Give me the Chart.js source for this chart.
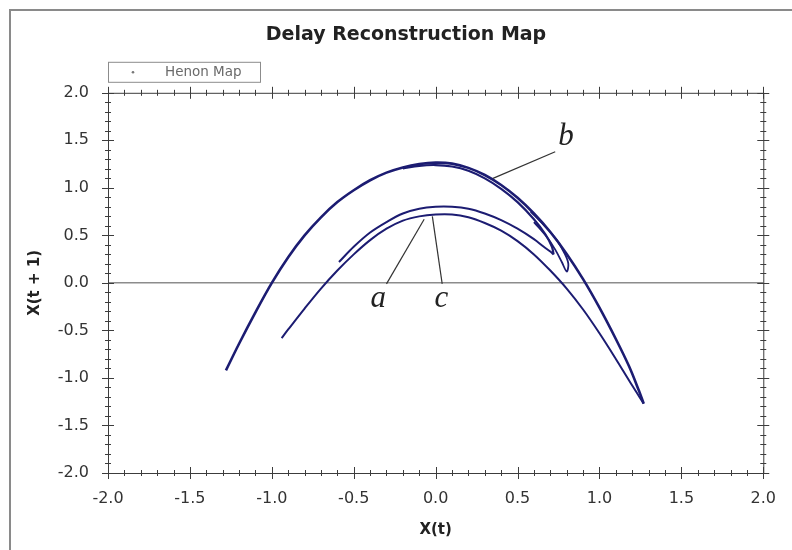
<!DOCTYPE html>
<html>
<head>
<meta charset="utf-8">
<script src="https://cdn.jsdelivr.net/npm/chart.js@4.4.1/dist/chart.umd.min.js"></script>
<style>
  html, body { margin: 0; padding: 0; background: #fff; }
</style>
</head>
<body>
<canvas id="chart" width="792" height="550"></canvas>
<script>
// X(t) / X(t+1) values, one strand of the attractor per pair
const outerX = [-1.28, -1.20, -1.10, -1.00, -0.90, -0.80, -0.70, -0.60, -0.50, -0.40, -0.30, -0.20, -0.10, 0.00, 0.10, 0.20, 0.30, 0.40, 0.50, 0.60, 0.70, 0.80, 0.90, 1.00, 1.10, 1.18, 1.24, 1.27];
const outerY = [-0.92, -0.64, -0.31, 0.00, 0.27, 0.50, 0.69, 0.85, 0.975, 1.08, 1.16, 1.215, 1.25, 1.265, 1.255, 1.21, 1.135, 1.03, 0.895, 0.73, 0.535, 0.305, 0.04, -0.26, -0.59, -0.875, -1.13, -1.27];

const lowerX = [-0.94, -0.90, -0.80, -0.70, -0.60, -0.50, -0.40, -0.30, -0.20, -0.10, 0.00, 0.10, 0.20, 0.30, 0.40, 0.50, 0.60, 0.70, 0.80, 0.90, 1.00, 1.10, 1.20, 1.27];
const lowerY = [-0.58, -0.49, -0.27, -0.06, 0.13, 0.30, 0.45, 0.57, 0.655, 0.70, 0.72, 0.72, 0.69, 0.63, 0.55, 0.44, 0.30, 0.13, -0.06, -0.28, -0.53, -0.80, -1.08, -1.27];

const upperX = [-0.59, -0.50, -0.40, -0.30, -0.20, -0.10, 0.00, 0.10, 0.20, 0.30, 0.40, 0.50, 0.60, 0.66, 0.70, 0.72];
const upperY = [0.22, 0.38, 0.53, 0.64, 0.73, 0.78, 0.80, 0.80, 0.78, 0.73, 0.66, 0.57, 0.46, 0.38, 0.33, 0.30];

const foldX = [0.72, 0.71, 0.67, 0.60, 0.50, 0.40, 0.30, 0.20, 0.10, 0.00, -0.10, -0.20];
const foldY = [0.30, 0.38, 0.51, 0.67, 0.85, 0.99, 1.10, 1.18, 1.225, 1.24, 1.232, 1.205];

const loopX = [0.60, 0.68, 0.73, 0.77, 0.80, 0.81, 0.79, 0.74, 0.66, 0.58];
const loopY = [0.64, 0.48, 0.35, 0.22, 0.12, 0.20, 0.30, 0.45, 0.61, 0.75];

const tickValues = [-2.0, -1.5, -1.0, -0.5, 0.0, 0.5, 1.0, 1.5, 2.0];

const notes = [
  { text: "a", at: [-0.35, -0.17], from: [-0.30, -0.01], to: [-0.07, 0.67] },
  { text: "c", at: [0.035, -0.17], from: [0.04, -0.01], to: [-0.02, 0.70] },
  { text: "b", at: [0.795, 1.54], from: [0.73, 1.38], to: [0.35, 1.10] }
];

function pts(xs, ys) {
  return xs.map((v, i) => ({ x: v, y: ys[i] }));
}

const lineColor = "#1c1c72";
function strand(label, xs, ys, width) {
  return {
    label,
    data: pts(xs, ys),
    showLine: true,
    borderColor: lineColor,
    backgroundColor: lineColor,
    borderWidth: width,
    pointRadius: 0,
    tension: 0.35,
    fill: false
  };
}

const frame = {
  id: "frame",
  beforeDraw(chart) {
    const ctx = chart.ctx;
    ctx.save();
    ctx.fillStyle = "#fff";
    ctx.fillRect(0, 0, chart.width, chart.height);
    ctx.strokeStyle = "#8a8a8a";
    ctx.lineWidth = 2;
    ctx.strokeRect(10, 10, 800, 560);
    ctx.restore();
  }
};

// box round the plot with crossing ticks on all four sides
const frameTicks = {
  id: "frameTicks",
  afterDatasetsDraw(chart) {
    const { ctx, chartArea: a, scales: { x, y } } = chart;
    ctx.save();
    ctx.strokeStyle = "#3c3c3c";
    ctx.lineWidth = 1;
    ctx.strokeRect(a.left + 0.5, a.top + 0.5, a.right - a.left, a.bottom - a.top);
    ctx.beginPath();
    for (let i = -20; i <= 20; i++) {
      const len = i % 5 === 0 ? 6 : 3;
      const px = Math.round(x.getPixelForValue(i / 10)) + 0.5;
      const py = Math.round(y.getPixelForValue(i / 10)) + 0.5;
      ctx.moveTo(px, a.bottom - len); ctx.lineTo(px, a.bottom + len);
      ctx.moveTo(px, a.top - len); ctx.lineTo(px, a.top + len);
      ctx.moveTo(a.left - len, py); ctx.lineTo(a.left + len, py);
      ctx.moveTo(a.right - len, py); ctx.lineTo(a.right + len, py);
    }
    ctx.stroke();
    ctx.restore();
  }
};

const legendBox = {
  id: "legendBox",
  afterDraw(chart) {
    const { ctx, chartArea: a } = chart;
    const left = a.left, top = a.top - 31;
    ctx.save();
    ctx.fillStyle = "#fff";
    ctx.fillRect(left, top, 152, 20);
    ctx.strokeStyle = "#8c8c8c";
    ctx.lineWidth = 1;
    ctx.strokeRect(left + 0.5, top + 0.5, 152, 20);
    ctx.fillStyle = "#777";
    ctx.beginPath();
    ctx.arc(left + 25, top + 10.5, 1.3, 0, Math.PI * 2);
    ctx.fill();
    ctx.font = '13.5px "DejaVu Sans"';
    ctx.fillStyle = "#6a6a6a";
    ctx.textBaseline = "middle";
    ctx.fillText(chart.data.datasets[0].label, left + 57, top + 11);
    ctx.restore();
  }
};

const letters = {
  id: "letters",
  afterDraw(chart) {
    const { ctx, scales: { x, y } } = chart;
    ctx.save();
    ctx.strokeStyle = "#333";
    ctx.lineWidth = 1.2;
    ctx.fillStyle = "#222";
    ctx.font = 'italic 31px "Liberation Serif"';
    ctx.textAlign = "center";
    ctx.textBaseline = "middle";
    notes.forEach(n => {
      ctx.beginPath();
      ctx.moveTo(x.getPixelForValue(n.from[0]), y.getPixelForValue(n.from[1]));
      ctx.lineTo(x.getPixelForValue(n.to[0]), y.getPixelForValue(n.to[1]));
      ctx.stroke();
      ctx.fillText(n.text, x.getPixelForValue(n.at[0]), y.getPixelForValue(n.at[1]));
    });
    ctx.restore();
  }
};

new Chart(document.getElementById("chart"), {
  type: "scatter",
  data: {
    datasets: [
      strand("Henon Map", outerX, outerY, 2.6),
      strand("Henon Map", lowerX, lowerY, 2),
      strand("Henon Map", upperX, upperY, 2),
      strand("Henon Map", foldX, foldY, 2.2),
      strand("Henon Map", loopX, loopY, 1.8)
    ]
  },
  options: {
    responsive: false,
    animation: false,
    layout: { padding: { left: 20, right: 0, top: 10, bottom: 0 } },
    plugins: {
      legend: { display: false },
      tooltip: { enabled: false },
      title: {
        display: true,
        text: "Delay Reconstruction Map",
        color: "#222",
        font: { family: "DejaVu Sans", size: 19, weight: "bold" },
        padding: { top: 14, bottom: 46 }
      }
    },
    scales: {
      x: {
        type: "linear",
        position: "bottom",
        min: -2,
        max: 2,
        afterBuildTicks: s => { s.ticks = tickValues.map(v => ({ value: v })); },
        afterFit: s => { s.height = 77; },
        grid: { display: false, drawTicks: false },
        border: { display: false },
        ticks: {
          callback: v => v.toFixed(1),
          color: "#333",
          padding: 16,
          maxRotation: 0,
          font: { family: "DejaVu Sans", size: 16 }
        },
        title: {
          display: true,
          text: "X(t)",
          color: "#222",
          font: { family: "DejaVu Sans", size: 15, weight: "bold" },
          padding: { top: 0, bottom: 11 }
        }
      },
      y: {
        type: "linear",
        position: "left",
        min: -2,
        max: 2,
        afterBuildTicks: s => { s.ticks = tickValues.map(v => ({ value: v })); },
        afterFit: s => { s.width = 88; },
        grid: {
          drawTicks: false,
          lineWidth: 1.5,
          color: c => (c.tick && c.tick.value === 0 ? "#8c8c8c" : "rgba(0,0,0,0)")
        },
        border: { display: false },
        ticks: {
          callback: v => v.toFixed(1),
          color: "#333",
          padding: 19,
          font: { family: "DejaVu Sans", size: 16 }
        },
        title: {
          display: true,
          text: "X(t + 1)",
          color: "#222",
          font: { family: "DejaVu Sans", size: 15, weight: "bold" },
          padding: { top: 6, bottom: 0 }
        }
      },
      yRight: {
        type: "linear",
        position: "right",
        min: -2,
        max: 2,
        afterFit: s => { s.width = 24; },
        grid: { display: false, drawTicks: false },
        border: { display: false },
        ticks: { display: false }
      }
    }
  },
  plugins: [frame, frameTicks, legendBox, letters]
});
</script>
</body>
</html>
